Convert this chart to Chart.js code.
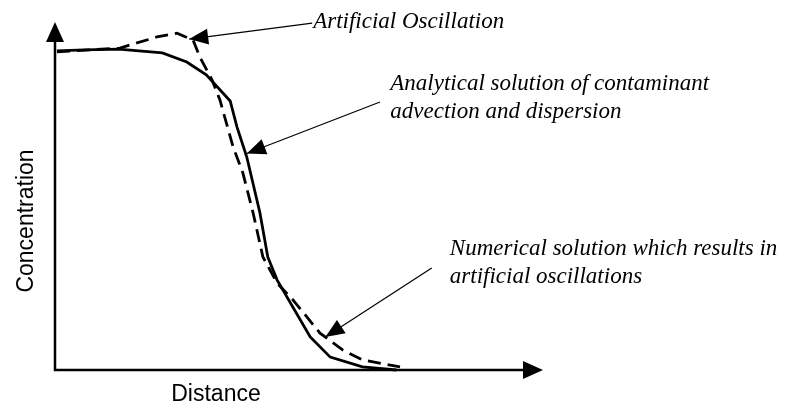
<!DOCTYPE html>
<html>
<head>
<meta charset="utf-8">
<script src="https://cdn.jsdelivr.net/npm/chart.js@4.4.1/dist/chart.umd.min.js"></script>
<style>
  html, body { margin: 0; padding: 0; background: #fff; }
  #wrap { width: 786px; height: 410px; position: relative; }
</style>
</head>
<body>
<div id="wrap"><canvas id="chart"></canvas></div>
<script>
// analytical solution (solid)
var analyticalX = [0.4, 6, 13, 22, 27, 31, 35.9, 37.3, 39.3, 42, 43.6, 45.5, 52.3, 56.4, 63, 70];
var analyticalY = [0.917, 0.92, 0.922, 0.911, 0.885, 0.848, 0.773, 0.698, 0.612, 0.451, 0.325, 0.259, 0.095, 0.037, 0.009, 0.0];

// numerical solution with oscillation (dashed)
var numericalX = [0.4, 13.3, 15.4, 20.9, 25, 28.3, 29.7, 32.2, 33.8, 36.5, 38.5, 40.6, 42.6, 45.5, 48.8, 54.3, 59, 63, 70.7];
var numericalY = [0.914, 0.925, 0.934, 0.957, 0.968, 0.948, 0.899, 0.833, 0.776, 0.641, 0.566, 0.451, 0.325, 0.25, 0.201, 0.106, 0.057, 0.029, 0.009];

var xTitle = 'Distance';
var yTitle = 'Concentration';

// callouts: text lines, first baseline (data), arrow tail and tip (data)
var notes = [
  { lines: ['Artificial Oscillation'], at: [52.9, 0.983], tail: [52.7, 0.997], tip: [27.5, 0.951] },
  { lines: ['Analytical solution of contaminant', 'advection and dispersion'], at: [68.7, 0.805], tail: [66.6, 0.77], tip: [39.3, 0.622] },
  { lines: ['Numerical solution which results in', 'artificial oscillations'], at: [80.9, 0.331], tail: [77.2, 0.293], tip: [55.4, 0.095] }
];

function toPts(xs, ys) {
  var out = [];
  for (var i = 0; i < xs.length; i++) out.push({ x: xs[i], y: ys[i] });
  return out;
}

function arrowHead(c, x1, y1, x2, y2, len, half) {
  var a = Math.atan2(y2 - y1, x2 - x1);
  c.beginPath();
  c.moveTo(x2, y2);
  c.lineTo(x2 - len * Math.cos(a) + half * Math.sin(a), y2 - len * Math.sin(a) - half * Math.cos(a));
  c.lineTo(x2 - len * Math.cos(a) - half * Math.sin(a), y2 - len * Math.sin(a) + half * Math.cos(a));
  c.closePath();
  c.fill();
}

var sketchPlugin = {
  id: 'sketch',
  afterDatasetsDraw: function (chart) {
    var c = chart.ctx, xs = chart.scales.x, ys = chart.scales.y;
    var x0 = xs.getPixelForValue(0), y0 = ys.getPixelForValue(0);
    var xEnd = xs.getPixelForValue(100), yEnd = ys.getPixelForValue(1);
    c.save();
    c.strokeStyle = '#000';
    c.fillStyle = '#000';
    // axes
    c.lineWidth = 2.5;
    c.beginPath();
    c.moveTo(x0, yEnd + 10); c.lineTo(x0, y0); c.lineTo(xEnd - 10, y0);
    c.stroke();
    arrowHead(c, x0, y0, x0, yEnd, 20, 9);
    arrowHead(c, x0, y0, xEnd, y0, 20, 9);

    // axis titles
    c.font = '23px "Liberation Sans", Arial, sans-serif';
    c.textAlign = 'center';
    c.textBaseline = 'alphabetic';
    c.fillText(xTitle, 216, y0 + 31);
    c.save();
    c.translate(33, 221);
    c.rotate(-Math.PI / 2);
    c.fillText(yTitle, 0, 0);
    c.restore();

    // callouts
    c.font = 'italic 23px "Liberation Serif", "Times New Roman", serif';
    c.textAlign = 'left';
    notes.forEach(function (n) {
      var tx = xs.getPixelForValue(n.at[0]), ty = ys.getPixelForValue(n.at[1]);
      n.lines.forEach(function (l, i) { c.fillText(l, tx, ty + i * 28.5); });
      var ax = xs.getPixelForValue(n.tail[0]), ay = ys.getPixelForValue(n.tail[1]);
      var bx = xs.getPixelForValue(n.tip[0]), by = ys.getPixelForValue(n.tip[1]);
      c.lineWidth = 1.2;
      c.beginPath(); c.moveTo(ax, ay); c.lineTo(bx, by); c.stroke();
      arrowHead(c, ax, ay, bx, by, 19, 8);
    });
    c.restore();
  }
};

new Chart(document.getElementById('chart'), {
  type: 'scatter',
  data: {
    datasets: [
      {
        label: 'Analytical',
        data: toPts(analyticalX, analyticalY),
        showLine: true,
        borderColor: '#000',
        borderWidth: 2.8,
        pointRadius: 0,
        tension: 0,
        clip: false
      },
      {
        label: 'Numerical',
        data: toPts(numericalX, numericalY),
        showLine: true,
        borderColor: '#000',
        borderWidth: 2.8,
        borderDash: [13, 7],
        pointRadius: 0,
        tension: 0,
        clip: false
      }
    ]
  },
  options: {
    responsive: true,
    maintainAspectRatio: false,
    animation: false,
    layout: { padding: { left: 55, right: 243, top: 22, bottom: 40 } },
    plugins: { legend: { display: false }, tooltip: { enabled: false } },
    scales: {
      x: { type: 'linear', min: 0, max: 100, display: false },
      y: { type: 'linear', min: 0, max: 1, display: false }
    }
  },
  plugins: [sketchPlugin]
});
</script>
</body>
</html>
